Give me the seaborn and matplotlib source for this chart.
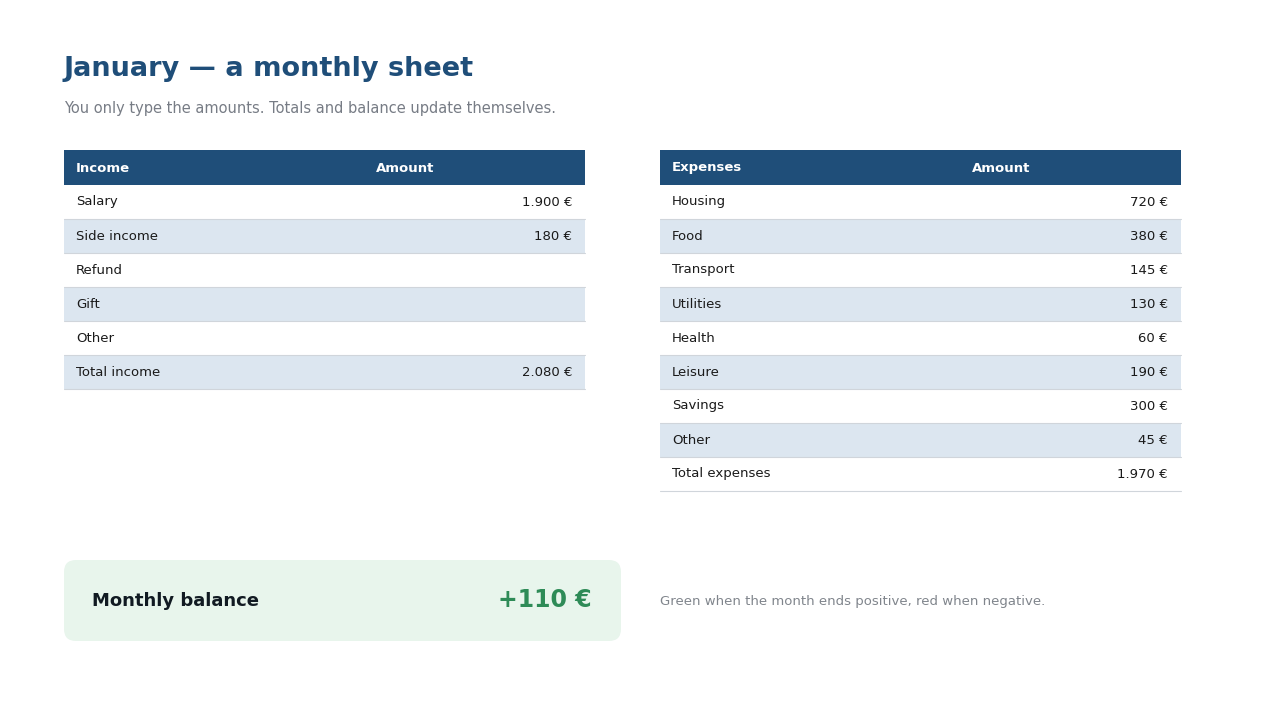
import matplotlib
matplotlib.use("Agg")
import matplotlib.pyplot as plt
import seaborn as sns
from matplotlib.patches import Rectangle, FancyBboxPatch

sns.set_theme(style="white")
plt.rcParams['font.family'] = ['DejaVu Sans']

income_labels = ["Salary", "Side income", "Refund", "Gift", "Other", "Total income"]
income_values = ["1.900 €", "180 €", "", "", "", "2.080 €"]
expense_labels = ["Housing", "Food", "Transport", "Utilities", "Health", "Leisure", "Savings", "Other", "Total expenses"]
expense_values = ["720 €", "380 €", "145 €", "130 €", "60 €", "190 €", "300 €", "45 €", "1.970 €"]
balance_text = "+110 €"

HEAD = "#1f4e79"
ALT = "#dce6f0"
LINE = "#d0d5db"
TXT = "#1a1a1a"

fig = plt.figure(figsize=(12.8, 7.2), dpi=100)
ax = fig.add_axes([0, 0, 1, 1])
ax.set_xlim(0, 1280)
ax.set_ylim(720, 0)
ax.axis("off")

ax.text(64, 69, "January — a monthly sheet", fontsize=19.5, fontweight="bold", color=HEAD, va="center")
ax.text(64, 108, "You only type the amounts. Totals and balance update themselves.", fontsize=10.5, color="#777c85", va="center")

def table(x0, x1, head, amt_x, labels, values):
    y = 150
    h = 34
    ax.add_patch(Rectangle((x0, y), x1 - x0, h + 1, color=HEAD, lw=0))
    ax.text(x0 + 12, y + h / 2 + 1, head, color="white", fontweight="bold", fontsize=9.5, va="center")
    ax.text(amt_x, y + h / 2 + 1, "Amount", color="white", fontweight="bold", fontsize=9.5, va="center")
    y += h + 1
    for i, (l, v) in enumerate(zip(labels, values)):
        if i % 2 == 1:
            ax.add_patch(Rectangle((x0, y), x1 - x0, h, color=ALT, lw=0))
        ax.plot([x0, x1], [y + h, y + h], color=LINE, lw=0.8)
        ax.text(x0 + 12, y + h / 2, l, color=TXT, fontsize=9.5, va="center")
        ax.text(x1 - 13, y + h / 2, v, color=TXT, fontsize=9.5, va="center", ha="right")
        y += h

table(64, 585, "Income", 376, income_labels, income_values)
table(660, 1181, "Expenses", 972, expense_labels, expense_values)

ax.add_patch(FancyBboxPatch((64, 560), 557, 81, boxstyle="round,pad=0,rounding_size=12",
                            color="#e8f5ec", lw=0))
ax.text(92, 601, "Monthly balance", fontsize=13, fontweight="bold", color="#111a22", va="center")
ax.text(592, 600, balance_text, fontsize=17, fontweight="bold", color="#2e8b57", va="center", ha="right")
ax.text(660, 601, "Green when the month ends positive, red when negative.", fontsize=9.5, color="#80858c", va="center")

fig.savefig("out.png", dpi=100)
